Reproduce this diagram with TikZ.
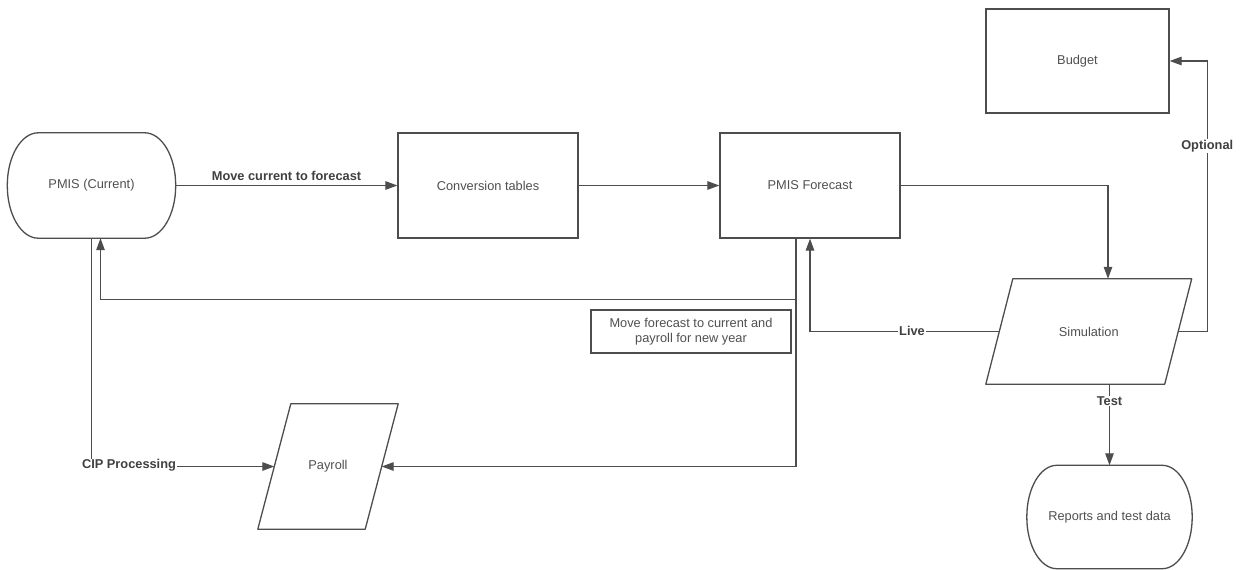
\documentclass[tikz,border=0pt]{standalone}
\usepackage{fontspec}
\setmainfont{Liberation Sans}
\usetikzlibrary{arrows.meta,calc}
\definecolor{ln}{RGB}{77,77,77}
\definecolor{tx}{RGB}{80,80,80}
\definecolor{lb}{RGB}{64,64,64}
\newcommand\mkterm[3]{%
 \draw[outl] ($(#1.north west)+(#2,0)$) -- ($(#1.north east)+(-#2,0)$)
  .. controls ($(#1.north east)+(-#2*0.4477,0)$) and ($(#1.north east)+(0,#3*0.4477)$) .. ($(#1.north east)+(0,#3)$)
  -- ($(#1.south east)+(0,-#3)$)
  .. controls ($(#1.south east)+(0,-#3*0.4477)$) and ($(#1.south east)+(-#2*0.4477,0)$) .. ($(#1.south east)+(-#2,0)$)
  -- ($(#1.south west)+(#2,0)$)
  .. controls ($(#1.south west)+(#2*0.4477,0)$) and ($(#1.south west)+(0,-#3*0.4477)$) .. ($(#1.south west)+(0,-#3)$)
  -- ($(#1.north west)+(0,#3)$)
  .. controls ($(#1.north west)+(0,#3*0.4477)$) and ($(#1.north west)+(#2*0.4477,0)$) .. cycle;}
\newcommand\mkpara[2]{%
 \draw[outl] ($(#1.north west)+(#2,0)$) -- ($(#1.north east)+(#2,0)$)
  -- ($(#1.south east)+(-#2,0)$) -- ($(#1.south west)+(-#2,0)$) -- cycle;}
\begin{document}
\begin{tikzpicture}[x=1pt,y=-1pt,
  every node/.style={font=\fontsize{12.8}{15.5}\selectfont, text=tx},
  outl/.style={draw=ln, line width=1.3pt, line join=round},
  box/.style={draw=ln, line width=1.3pt, rectangle, inner sep=0pt},
  shp/.style={rectangle, inner sep=0pt},
  arr/.style={draw=ln, line width=1.2pt, -{Triangle[length=12pt,width=8.5pt]}},
  plain/.style={draw=ln, line width=1.2pt},
  lbl/.style={font=\bfseries\fontsize{12.8}{15.5}\selectfont, text=lb, fill=white, inner sep=1pt}]
\useasboundingbox (0,0) rectangle (1245,570);
\fill[white] (0,0) rectangle (1245,570);
\node[shp, minimum width=168pt, minimum height=105pt] (cur) at (91.5,185.5) {PMIS (Current)};
\mkterm{cur}{31}{52.5}
\node[box, minimum width=180pt, minimum height=105pt] (conv) at (488,185.5) {Conversion tables};
\node[box, minimum width=180pt, minimum height=105pt] (fc) at (810,185.5) {PMIS Forecast};
\node[box, minimum width=183pt, minimum height=104pt] (bud) at (1077.5,61) {Budget};
\node[shp, minimum width=178.5pt, minimum height=105pt] (sim) at (1088.75,331.5) {Simulation};
\mkpara{sim}{13.5}
\node[shp, minimum width=165pt, minimum height=103pt] (rep) at (1109.5,517) {Reports and test data};
\mkterm{rep}{30}{51.5}
\node[shp, minimum width=107pt, minimum height=125pt] (pay) at (328,466.5) {Payroll};
\mkpara{pay}{16.5}
\node[box, line width=1.2pt, minimum width=200pt, minimum height=43pt, align=center] (note) at (691,331.5) {Move forecast to current and\\payroll for new year};

\draw[arr] (cur.east) -- node[lbl, above=3pt] {Move current to forecast} (conv.west);
\draw[arr] (conv.east) -- (fc.west);
\draw[arr] (fc.east) -| ([xshift=19.25pt]sim.north);
\draw[arr] (sim.east) -- ++(29,0) coordinate (oc) |- (bud.east);
\node[lbl] (opt) at ($(oc)+(0,-185.5)$) {Optional};
\draw[arr] (sim.west) -| (fc.south);
\node[lbl] (live) at (912,330.5) {Live};
\draw[plain] ([xshift=-14pt]fc.south) -- ++(0,61) coordinate (j);
\draw[arr] (j) |- (pay.east);
\draw[arr] (j) -| ([xshift=9pt]cur.south);
\draw[arr] (cur.south) |- (pay.west);
\node[lbl] (cip) at (129,465.5) {CIP Processing};
\draw[arr] (rep.north |- sim.south) -- (rep.north);
\node[lbl] (test) at (1109.5,401) {Test};
\end{tikzpicture}
\end{document}
